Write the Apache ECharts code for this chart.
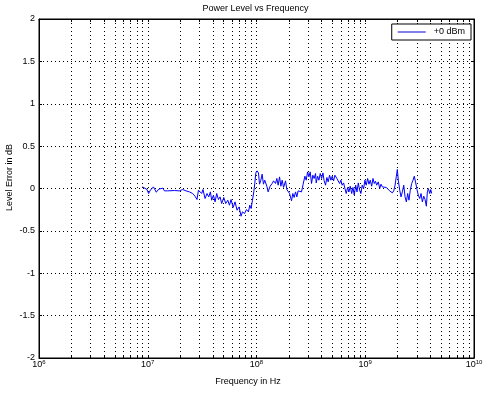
<!DOCTYPE html>
<html><head><meta charset="utf-8">
<script src="https://cdn.jsdelivr.net/npm/echarts@6/dist/echarts.min.js"></script>
<style>html,body{margin:0;padding:0;background:#fff}#c{width:492px;height:396px}</style>
</head><body><div id="c"></div>
<script>
const titleText = 'Power Level vs Frequency';
const xAxisTitle = 'Frequency in Hz';
const yAxisTitle = 'Level Error in dB';
const seriesName = '+0 dBm';
const xMinHz = 1e6, xMaxHz = 1e10;
const yMin = -2, yMax = 2, yStep = 0.5;
const minorTickHz = [
  2e6,3e6,4e6,5e6,6e6,7e6,8e6,9e6,
  2e7,3e7,4e7,5e7,6e7,7e7,8e7,9e7,
  2e8,3e8,4e8,5e8,6e8,7e8,8e8,9e8,
  2e9,3e9,4e9,5e9,6e9,7e9,8e9,9e9
];
// log10 of frequency in Hz
const logFreqHz = [
  6.953,6.969,6.993,7.008,7.024,7.036,7.052,7.066,7.079,7.091,7.110,7.122,7.140,7.153,7.183,7.245,7.291,7.321,7.352,7.383,7.413,7.435,7.453,7.466,
  7.484,7.496,7.508,7.527,7.545,7.561,7.576,7.588,7.604,7.619,7.634,7.650,7.665,7.680,7.699,7.717,7.736,7.751,7.766,7.785,7.803,7.821,7.840,7.858,7.871,7.890,7.908,7.926,7.938,7.950,7.963,7.975,7.984,7.994,8.006,8.018,8.028,
  8.040,8.052,8.064,8.076,8.095,8.107,8.125,8.144,8.157,8.175,8.187,8.199,8.212,8.224,8.236,8.249,8.267,8.279,8.291,8.304,8.322,8.334,8.346,8.359,8.371,8.383,8.396,8.414,8.429,8.445,8.457,8.470,8.482,8.494,8.506,8.518,8.530,8.543,
  8.549,8.562,8.574,8.586,8.599,8.611,8.622,8.635,8.647,8.659,8.672,8.684,8.696,8.709,8.721,8.739,8.751,8.764,8.776,8.788,8.801,8.813,8.825,8.838,8.850,8.862,8.875,8.887,8.899,8.912,8.924,8.936,8.948,8.960,8.972,8.985,8.997,9.009,9.022,9.034,9.046,9.059,9.071,9.083,9.094,9.105,
  9.120,9.133,9.145,9.157,9.175,9.193,9.206,9.225,9.237,9.249,9.262,9.274,9.286,9.295,9.304,9.317,9.329,9.341,9.354,9.366,9.378,9.390,9.402,9.414,9.427,9.439,9.451,9.464,9.476,9.488,9.501,9.513,9.525,9.538,9.550,9.562,9.571,9.580,9.593,9.602,9.611
];
const levelDb = [
  0.019,0.007,-0.012,-0.059,-0.020,-0.028,0.019,0.004,-0.044,-0.020,-0.005,-0.012,0.004,-0.028,-0.028,-0.024,-0.028,-0.012,-0.028,-0.040,-0.059,-0.091,-0.130,-0.020,
  -0.040,-0.059,-0.012,-0.118,-0.059,-0.099,-0.040,-0.138,-0.079,-0.158,-0.059,-0.130,-0.099,-0.177,-0.106,-0.177,-0.138,-0.197,-0.130,-0.224,-0.158,-0.256,-0.217,-0.327,-0.276,-0.295,-0.248,-0.276,-0.197,-0.236,-0.138,-0.040,0.059,0.184,0.208,0.184,0.051,
  0.098,0.169,0.051,0.098,0.027,-0.040,0.027,0.059,0.090,0.059,0.118,0.039,0.137,0.027,0.098,0.012,0.090,-0.012,0.000,-0.059,-0.146,-0.059,-0.106,-0.040,-0.099,-0.028,-0.040,-0.040,0.051,0.145,0.098,0.196,0.137,0.196,0.059,0.157,0.118,0.177,
  0.066,0.145,0.098,0.177,0.118,0.184,0.090,0.039,0.130,0.078,0.157,0.098,0.145,0.090,0.157,0.118,0.137,0.059,0.098,0.039,0.066,0.000,-0.059,0.012,-0.040,0.027,-0.059,0.012,-0.079,0.039,-0.040,0.066,-0.020,-0.059,0.039,0.000,0.098,0.039,0.118,0.051,0.098,0.027,0.118,0.059,0.086,0.039,
  0.078,0.000,0.051,0.019,0.027,0.012,0.027,-0.028,-0.012,-0.052,-0.028,0.039,0.145,0.224,0.098,-0.020,-0.099,-0.040,0.039,-0.099,-0.158,-0.059,-0.138,-0.020,0.059,0.098,0.145,0.066,-0.012,-0.079,-0.118,-0.059,-0.158,-0.091,-0.130,-0.209,-0.040,0.000,-0.059,-0.012,-0.059
];

const FONT = '"Liberation Sans", Arial, Helvetica, sans-serif';
const chart = echarts.init(document.getElementById('c'), null, {renderer: 'canvas'});
const lineData = logFreqHz.map((e, i) => [Math.pow(10, e), levelDb[i]]);
const crisp = v => Math.floor(v) + 0.5;

const xCommon = {
  type: 'log', logBase: 10, min: xMinHz, max: xMaxHz,
  axisLine: {show: true, onZero: false, lineStyle: {color: '#000', width: 1}},
  axisTick: {show: true, inside: true, length: 3, lineStyle: {color: '#000'}},
  splitLine: {show: false}
};
const yCommon = {
  type: 'value', min: yMin, max: yMax, interval: yStep,
  axisLine: {show: true, onZero: false, lineStyle: {color: '#000', width: 1}},
  axisTick: {show: true, inside: true, length: 3, lineStyle: {color: '#000'}},
  splitLine: {show: false}
};

chart.setOption({
  animation: false,
  backgroundColor: '#fff',
  grid: {left: 39, right: 18, top: 19, bottom: 38, show: true, borderColor: '#000', borderWidth: 1, containLabel: false},
  legend: {
    data: [{name: seriesName, icon: 'rect'}], right: 21, top: 24, orient: 'horizontal',
    backgroundColor: '#fff', borderColor: '#000', borderWidth: 1, borderRadius: 0,
    padding: [3, 6, 3, 6], itemWidth: 28, itemHeight: 1, itemGap: 8,
    itemStyle: {color: '#0000cc', borderWidth: 0},
    textStyle: {fontFamily: FONT, fontSize: 9, color: '#000', padding: [0, 0, 0, 3], lineHeight: 10}
  },
  xAxis: [
    Object.assign({}, xCommon, {
      position: 'bottom',
      axisLabel: {
        show: true, margin: 1, color: '#000',
        formatter: v => '{b|10}{s|' + Math.round(Math.log10(v)) + '}',
        rich: {
          b: {fontFamily: FONT, fontSize: 9, color: '#000'},
          s: {fontFamily: FONT, fontSize: 6, color: '#000', padding: [0, 0, 6, 0]}
        }
      },
      splitLine: {show: true, lineStyle: {color: '#000', width: 1, type: [1, 3]}}
    }),
    Object.assign({}, xCommon, {position: 'top', axisLabel: {show: false}})
  ],
  yAxis: [
    Object.assign({}, yCommon, {
      position: 'left',
      axisLabel: {show: true, margin: 4, color: '#000', fontFamily: FONT, fontSize: 9},
      splitLine: {show: true, lineStyle: {color: '#000', width: 1, type: [1, 3]}}
    }),
    Object.assign({}, yCommon, {position: 'right', axisLabel: {show: false}})
  ],
  graphic: [
    {type: 'text', x: 255.5, y: 8.5, style: {text: titleText, fontFamily: FONT, fontSize: 9, fill: '#000', textAlign: 'center', textVerticalAlign: 'middle', align: 'center', verticalAlign: 'middle'}},
    {type: 'text', x: 248, y: 382, style: {text: xAxisTitle, fontFamily: FONT, fontSize: 9, fill: '#000', textAlign: 'center', textVerticalAlign: 'middle', align: 'center', verticalAlign: 'middle'}},
    {type: 'text', x: 10, y: 177.5, rotation: Math.PI / 2, style: {text: yAxisTitle, fontFamily: FONT, fontSize: 9, fill: '#000', textAlign: 'center', textVerticalAlign: 'middle', align: 'center', verticalAlign: 'middle'}}
  ],
  series: [
    {
      type: 'custom', name: 'minor', silent: true, z: 1,
      xAxisIndex: 0, yAxisIndex: 0,
      data: minorTickHz.map(f => [f, 0]),
      encode: {x: 0, y: 1},
      renderItem: function (params, api) {
        const f = api.value(0);
        const top = api.coord([f, yMax]);
        const bot = api.coord([f, yMin]);
        const x = crisp(top[0]);
        return {type: 'group', children: [
          {type: 'line', shape: {x1: x, y1: top[1], x2: x, y2: bot[1]}, style: {stroke: '#000', lineWidth: 1, lineDash: [1, 3]}},
          {type: 'line', shape: {x1: x, y1: top[1], x2: x, y2: top[1] + 3}, style: {stroke: '#000', lineWidth: 1}},
          {type: 'line', shape: {x1: x, y1: bot[1], x2: x, y2: bot[1] - 3}, style: {stroke: '#000', lineWidth: 1}}
        ]};
      }
    },
    {
      type: 'line', name: seriesName, data: lineData, z: 3,
      symbol: 'none', showSymbol: false, smooth: false,
      lineStyle: {color: '#0000ff', width: 1}, itemStyle: {color: '#0000ff'}
    }
  ]
});
</script>
</body></html>
